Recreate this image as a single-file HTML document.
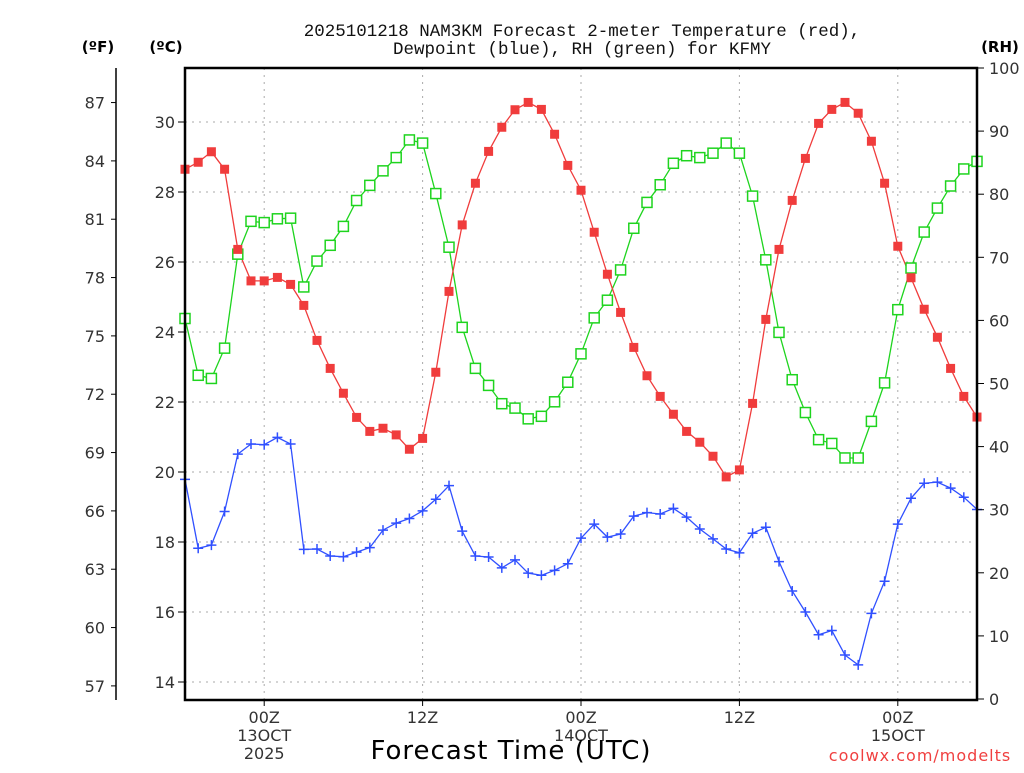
<!DOCTYPE html>
<html><head><meta charset="utf-8"><style>
body{margin:0;background:#fff;}
svg text{font-family:"DejaVu Sans","Liberation Sans",sans-serif;}
</style></head><body>
<svg id="chart" width="1024" height="768" xmlns="http://www.w3.org/2000/svg">
<rect width="1024" height="768" fill="#fff"/>
<g id="grid"></g><g id="series"></g><g id="axes"></g>
<text x="582" y="36" text-anchor="middle" font-size="17.5" fill="#111" style="font-family:'Liberation Mono',monospace">2025101218 NAM3KM Forecast 2-meter Temperature (red),</text>
<text x="582" y="54" text-anchor="middle" font-size="17.5" fill="#111" style="font-family:'Liberation Mono',monospace">Dewpoint (blue), RH (green) for KFMY</text>
<text x="98" y="52" text-anchor="middle" font-size="15" font-weight="bold" fill="#000">(ºF)</text>
<text x="166" y="52" text-anchor="middle" font-size="15" font-weight="bold" fill="#000">(ºC)</text>
<text x="1000" y="52" text-anchor="middle" font-size="15" font-weight="bold" fill="#000">(RH)</text>
<text x="511" y="759" text-anchor="middle" font-size="26" fill="#000" letter-spacing="1">Forecast Time (UTC)</text>
<text x="920" y="761" text-anchor="middle" font-size="16" fill="#f04040" letter-spacing="1">coolwx.com/modelts</text>
</svg>
<script>
const temps=[28.65,28.85,29.15,28.65,26.36,25.46,25.46,25.56,25.36,24.76,23.76,22.96,22.25,21.56,21.16,21.25,21.06,20.65,20.96,22.85,25.16,27.06,28.25,29.16,29.85,30.35,30.56,30.36,29.65,28.76,28.05,26.85,25.65,24.56,23.56,22.75,22.16,21.65,21.16,20.85,20.45,19.86,20.06,21.96,24.36,26.36,27.76,28.96,29.96,30.36,30.56,30.25,29.45,28.25,26.45,25.55,24.65,23.85,22.96,22.16,21.57];
const dewpts=[19.79,17.82,17.91,18.87,20.51,20.80,20.78,20.99,20.80,17.79,17.80,17.60,17.58,17.71,17.84,18.34,18.54,18.67,18.89,19.22,19.61,18.31,17.60,17.57,17.26,17.49,17.11,17.05,17.19,17.38,18.11,18.51,18.14,18.23,18.74,18.84,18.80,18.96,18.71,18.37,18.09,17.80,17.69,18.25,18.42,17.44,16.60,16.00,15.35,15.47,14.77,14.49,15.96,16.88,18.51,19.25,19.68,19.71,19.54,19.28,18.93];
const rh=[60.3,51.3,50.8,55.6,70.5,75.7,75.5,76.1,76.2,65.3,69.4,71.9,74.9,79.0,81.4,83.7,85.8,88.6,88.1,80.1,71.6,58.9,52.4,49.7,46.8,46.1,44.4,44.8,47.1,50.2,54.7,60.4,63.2,68.0,74.6,78.7,81.5,84.9,86.1,85.8,86.5,88.1,86.5,79.7,69.6,58.1,50.6,45.4,41.1,40.5,38.2,38.2,44.0,50.1,61.7,68.3,74.0,77.8,81.3,84.0,85.2];
const cTicks=[14,16,18,20,22,24,26,28,30];
const fTicks=[57,60,63,66,69,72,75,78,81,84,87];
const rhTicks=[0,10,20,30,40,50,60,70,80,90,100];
const xTickHours=[6,18,30,42,54];
const xTickLabels=[["00Z","13OCT","2025"],["12Z"],["00Z","14OCT"],["12Z"],["00Z","15OCT"]];

const L=185,R=977,T=68,B=700;
const xS=h=>L+h*(R-L)/60;
const yC=c=>122+(30-c)*35;
const yF=f=>yC((f-32)*5/9);
const yRH=v=>699-v*6.31;
const NS="http://www.w3.org/2000/svg";
function mk(tag,attrs,parent){const e=document.createElementNS(NS,tag);for(const k in attrs)e.setAttribute(k,attrs[k]);parent.appendChild(e);return e;}
const grid=document.getElementById('grid'),ser=document.getElementById('series'),ax=document.getElementById('axes');

cTicks.forEach(c=>{
  const g=mk('line',{x1:L,x2:R,y1:yC(c),y2:yC(c),stroke:'#aaa','stroke-dasharray':'2,5'},grid);
  
  
  const t=mk('line',{x1:L-7,x2:L,y1:yC(c),y2:yC(c),stroke:'#000'},ax);
  
  
  const tx=mk('text',{x:L-10,y:yC(c)+6,'text-anchor':'end','font-size':'16',fill:'#333'},ax);
  tx.textContent=c;
  
  
});
xTickHours.forEach((h,i)=>{
  const g=mk('line',{x1:xS(h),x2:xS(h),y1:T,y2:B,stroke:'#aaa','stroke-dasharray':'2,5'},grid);
  
  
  const t=mk('line',{x1:xS(h),x2:xS(h),y1:B,y2:B+6,stroke:'#000'},ax);
  
  
  xTickLabels[i].forEach((s,j)=>{
    const tx=mk('text',{x:xS(h),y:723+j*18,'text-anchor':'middle','font-size':'16',fill:'#333'},ax);
    tx.textContent=s;
    
    
  });
});
fTicks.forEach(f=>{
  const t=mk('line',{x1:111,x2:116,y1:yF(f),y2:yF(f),stroke:'#000'},ax);
  
  
  const tx=mk('text',{x:105,y:yF(f)+6,'text-anchor':'end','font-size':'16',fill:'#333'},ax);
  tx.textContent=f;
  
  
});
rhTicks.forEach(v=>{
  const t=mk('line',{x1:R,x2:R+7,y1:yRH(v),y2:yRH(v),stroke:'#000'},ax);
  
  
  const tx=mk('text',{x:989,y:yRH(v)+6,'text-anchor':'start','font-size':'16',fill:'#333'},ax);
  tx.textContent=v;
  
  
});
const box=mk('rect',{x:L,y:T,width:R-L,height:B-T,fill:'none',stroke:'#000','stroke-width':2.5},ax);


const fax=mk('line',{x1:116,x2:116,y1:T,y2:B,stroke:'#000','stroke-width':1.5},ax);



function line(vals,yf,color,name){
  const pts=vals.map((v,i)=>xS(i).toFixed(1)+','+yf(v).toFixed(1)).join(' ');
  const p=mk('polyline',{points:pts,fill:'none',stroke:color,'stroke-width':1.3},ser);
  
  
}
line(rh,yRH,'#1ed41e','rh-line');
line(dewpts,yC,'#3050ff','dewpoint-line');
line(temps,yC,'#f03c3c','temperature-line');
rh.forEach((v,i)=>{
  const m=mk('rect',{x:xS(i)-5,y:yRH(v)-5,width:10,height:10,fill:'#fff',stroke:'#1ed41e','stroke-width':1.5},ser);
  
  
});
dewpts.forEach((v,i)=>{
  const x=xS(i),y=yC(v);
  const m=mk('path',{d:`M${x-5} ${y}H${x+5}M${x} ${y-5}V${y+5}`,stroke:'#3050ff','stroke-width':1.5},ser);
  
  
});
temps.forEach((v,i)=>{
  const m=mk('rect',{x:xS(i)-4.5,y:yC(v)-4.5,width:9,height:9,fill:'#f03c3c'},ser);
  
  
});
</script>
</body></html>
